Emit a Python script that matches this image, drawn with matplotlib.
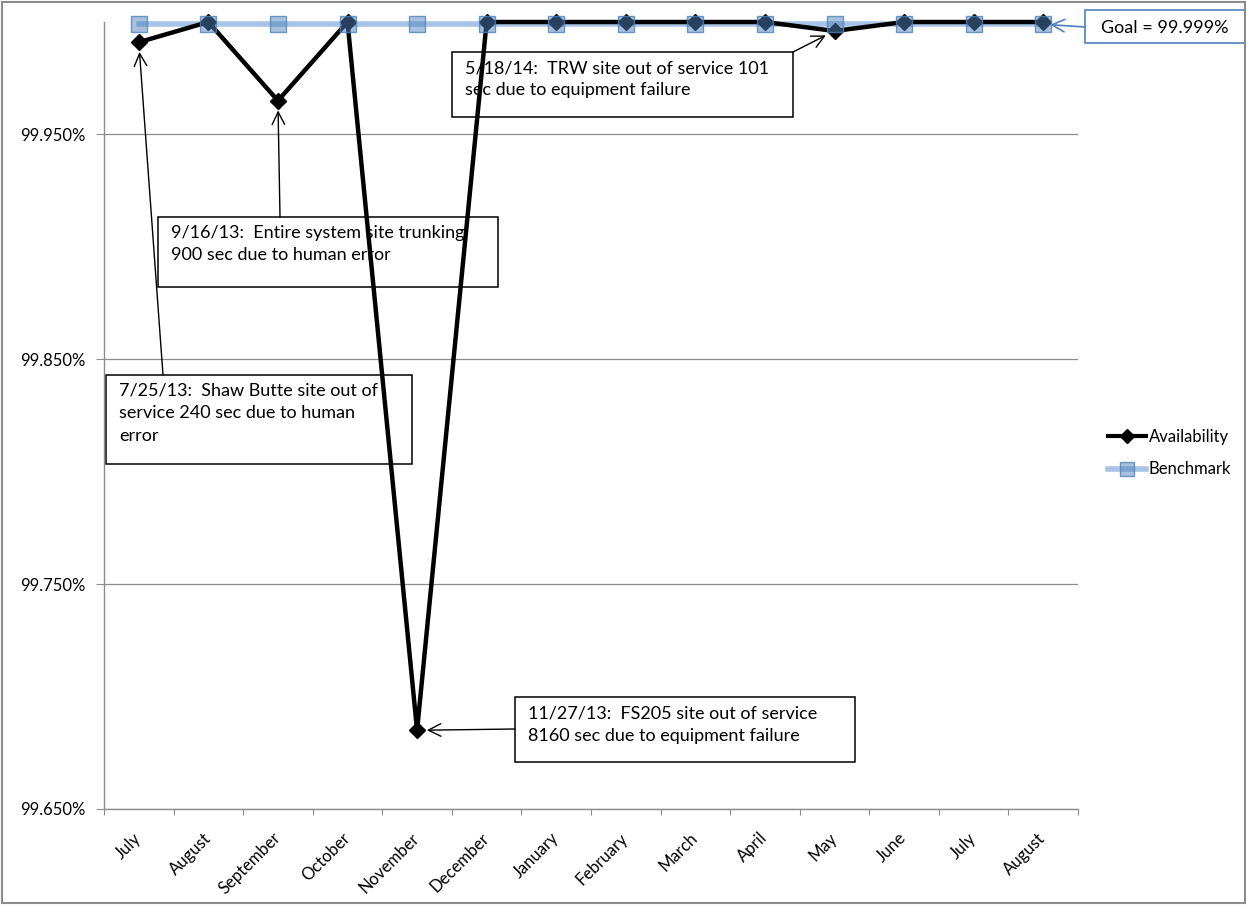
import numpy as np
import matplotlib.pyplot as plt
from matplotlib.lines import Line2D
from matplotlib.patches import Rectangle
from matplotlib.ticker import FuncFormatter

# =====================================================
# DATA
# =====================================================

months = ["July", "August", "September", "October", "November", "December",
          "January", "February", "March", "April", "May", "June", "July", "August"]

availability = [99.991, 100.0, 99.965, 100.0, 99.685, 100.0, 100.0,
                100.0, 100.0, 100.0, 99.996, 100.0, 100.0, 100.0]

benchmark = [99.999] * 14

y_ticks = [99.65, 99.75, 99.85, 99.95]

notes = [
    # text, index of month pointed at, box (left, top, right, bottom) in px, arrow start in px
    ("5/18/14:  TRW site out of service 101\nsec due to equipment failure", 10,
     (452, 52, 793, 117), (793, 52)),
    ("9/16/13:  Entire system site trunking\n900 sec due to human error", 2,
     (158, 217, 498, 287), (280, 217)),
    ("7/25/13:  Shaw Butte site out of\nservice 240 sec due to human\nerror", 0,
     (106, 375, 412, 464), (163, 375)),
    ("11/27/13:  FS205 site out of service\n8160 sec due to equipment failure", 4,
     (515, 697, 855, 762), (515, 729)),
]

W, H = 1247, 905
GRID = "#8c8c8c"
BLUE = "#4F81BD"

plt.rcParams["font.family"] = ["Lato", "DejaVu Sans"]


def fx(x):
    return x / W


def fy(y):
    return 1 - y / H


fig = plt.figure(figsize=(W / 100, H / 100), dpi=100)
ax = fig.add_axes([fx(104), fy(809), fx(1078) - fx(104), fy(22) - fy(809)])

x = np.arange(len(months))

# benchmark line, availability, then benchmark markers on top
ax.plot(x, benchmark, color="#A7C4E7", lw=4, zorder=3, clip_on=False)
ax.plot(x, availability, color="black", lw=3.2, marker="D", ms=8.5,
        zorder=4, clip_on=False)
ax.plot(x, benchmark, ls="none", marker="s", ms=11,
        mfc=(0.31, 0.51, 0.74, 0.5), mec=(0.31, 0.51, 0.74, 0.8), mew=1,
        zorder=5, clip_on=False)

ax.set_xlim(-0.5, len(months) - 0.5)
ax.set_ylim(99.65, 100.0)

ax.set_yticks(y_ticks)
ax.yaxis.set_major_formatter(FuncFormatter(lambda v, p: f"{v:.3f}%"))
ax.tick_params(axis="y", length=6, color=GRID, labelsize=12, pad=7)
ax.yaxis.grid(True, color=GRID, lw=0.9)
ax.set_axisbelow(True)

ax.set_xticks(np.arange(-0.5, len(months), 1))
ax.set_xticklabels([])
ax.set_xticks(x, minor=True)
ax.set_xticklabels(months, minor=True, rotation=45, ha="right", va="center",
                   rotation_mode="anchor", fontsize=12)
ax.tick_params(axis="x", which="major", length=4, color=GRID)
ax.tick_params(axis="x", which="minor", length=0, pad=19)

for s in ["top", "right"]:
    ax.spines[s].set_visible(False)
for s in ["left", "bottom"]:
    ax.spines[s].set_color(GRID)
    ax.spines[s].set_linewidth(1)

# annotation boxes
for text, idx, (l, t, r, b), (sx, sy) in notes:
    ax.add_patch(Rectangle((fx(l), fy(b)), fx(r) - fx(l), fy(t) - fy(b),
                           transform=fig.transFigure, facecolor="white",
                           edgecolor="black", lw=1.1, zorder=2, clip_on=False))
    ax.text(fx(l + 13), fy(t + 8), text, transform=fig.transFigure,
            ha="left", va="top", fontsize=13, linespacing=1.5, zorder=2.5)
    ax.annotate("", xy=(idx, availability[idx]), xycoords="data",
                xytext=(fx(sx), fy(sy)), textcoords="figure fraction",
                arrowprops=dict(arrowstyle="->,head_length=0.6,head_width=0.3",
                                color="black", lw=1, mutation_scale=15,
                                shrinkA=0, shrinkB=7),
                zorder=2.5)

# goal box
ax.add_patch(Rectangle((fx(1085), fy(43)), fx(1245) - fx(1085), fy(10) - fy(43),
                       transform=fig.transFigure, facecolor="white",
                       edgecolor=BLUE, lw=1.2, zorder=2, clip_on=False))
ax.text(fx(1165), fy(28), "Goal = 99.999%", transform=fig.transFigure,
        ha="center", va="center", fontsize=13, zorder=2.5)
ax.annotate("", xy=(13, 99.999), xycoords="data",
            xytext=(fx(1085), fy(27)), textcoords="figure fraction",
            arrowprops=dict(arrowstyle="->,head_length=0.6,head_width=0.3",
                            color=BLUE, lw=1.2, mutation_scale=15,
                            shrinkA=0, shrinkB=5),
            annotation_clip=False)

# legend
handles = [
    Line2D([], [], color="black", lw=3, marker="D", ms=7),
    Line2D([], [], color="#A7C4E7", lw=4, marker="s", ms=10,
           mfc=(0.31, 0.51, 0.74, 0.5), mec=(0.31, 0.51, 0.74, 0.8)),
]
fig.legend(handles, ["Availability", "Benchmark"], loc="center left",
           bbox_to_anchor=(fx(1093), fy(453)), frameon=False, fontsize=12,
           handlelength=2.3, handletextpad=0.15, labelspacing=1.0)

# outer border
fig.patches.append(Rectangle((0.0015, 0.002), 0.997, 0.996, transform=fig.transFigure,
                             fill=False, edgecolor="#8c8c8c", lw=1.5))

plt.savefig("out.png", dpi=100)
